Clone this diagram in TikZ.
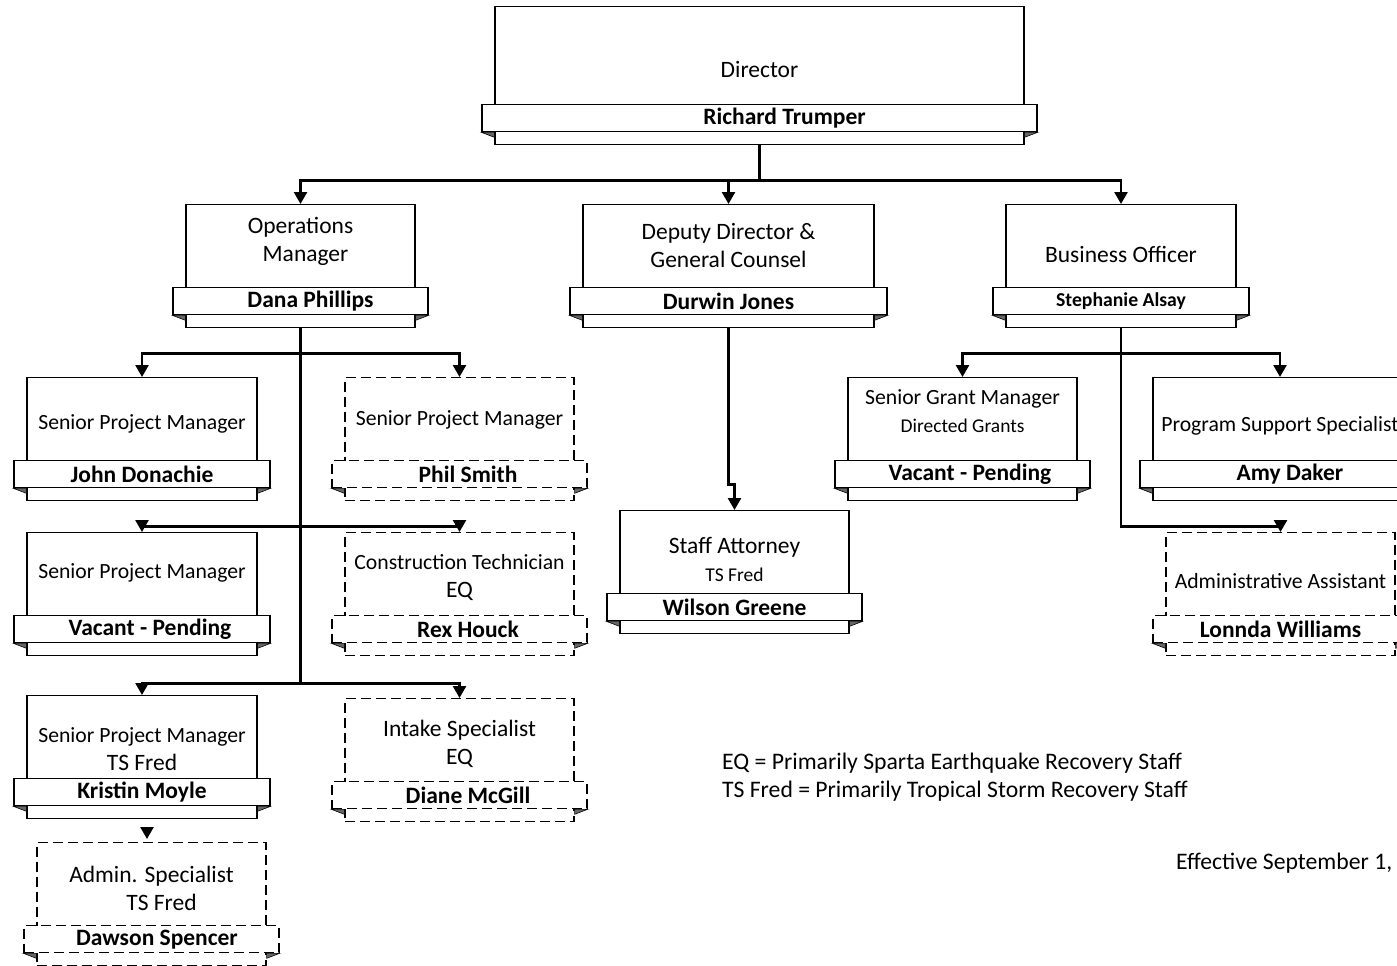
\documentclass[tikz,border=0pt]{standalone}
\usepackage{fontspec}
\setmainfont{Carlito}
\usetikzlibrary{arrows.meta}

\tikzset{
    boxmain/.style={draw, line width=1.3pt, fill=white, inner sep=0pt},
    banner/.style={draw, line width=1.3pt, fill=white, inner sep=0pt,
        minimum height=27pt, font=\bfseries\fontsize{23.5}{27}\selectfont},
    fold/.style={draw, line width=0.6pt, fill=black!60},
    titletext/.style={align=center, inner sep=0pt, font=\fontsize{23.5}{28}\selectfont},
    legendtext/.style={inner sep=0pt, font=\fontsize{23.7}{28}\selectfont},
    tempbox/.style={dash pattern=on 10pt off 5pt},
    conn/.style={line width=2.5pt},
    arr/.style={conn, -{Triangle[length=12pt,width=13pt]}},
}

% box with name banner: [style]{name}{centre x}{top y}{width}{height}{title offset}{title}{person}
\newcommand{\orgbox}[9][]{%
    \node[boxmain, #1, minimum width=#5pt, minimum height=#6pt, anchor=north] (#2) at (#3,#4) {};
    \node[banner, #1, minimum width={#5pt+26pt}, anchor=south] (#2n) at ([yshift=13pt]#2.south) {#9};
    \filldraw[fold] (#2n.south west) -- ++(13,0) -- ++(0,5) -- cycle;
    \filldraw[fold] (#2n.south east) -- ++(-13,0) -- ++(0,5) -- cycle;
    \node[titletext] (#2t) at (#3,{#4+#7}) {#8};
}
\newcommand{\tighttitle}{\fontsize{21.7}{25.5}\selectfont}
\newcommand{\smallline}[1]{{\fontsize{19.5}{22}\selectfont #1}}

\begin{document}
\begin{tikzpicture}[x=1pt, y=-1pt]
    \useasboundingbox (0,0) rectangle (1397,966);
    \clip (0,0) rectangle (1397,966);

    % top
    \orgbox{dir}{759.5}{6}{529}{138}{64}{Director}{\hspace*{50pt}Richard Trumper}

    \orgbox{opsmgr}{300.5}{204}{229}{123}{37}{\fontsize{23.5}{26}\selectfont Operations\\\hspace*{10pt}Manager}{\hspace*{20pt}Dana Phillips}
    \orgbox{deputy}{728.5}{204}{291}{123}{41}{Deputy Director \&\\General Counsel}{Durwin Jones}
    \orgbox{busoff}{1121}{204}{230}{123}{50}{Business Officer}{\fontsize{19.7}{22}\selectfont Stephanie Alsay}

    % operations
    \orgbox{spmJD}{142}{377}{230}{123}{47}{\tighttitle Senior Project Manager}{John Donachie}
    \orgbox[tempbox]{spmPS}{459.5}{377}{229}{123}{43}{\tighttitle Senior Project Manager}{\hspace*{17pt}Phil Smith}
    \orgbox{spmVP}{142}{532}{230}{123}{41}{\tighttitle Senior Project Manager}{\hspace*{16pt}Vacant - Pending}
    \orgbox[tempbox]{contech}{459.5}{532}{229}{123}{46}{\tighttitle Construction Technician\\EQ}{\hspace*{17pt}Rex Houck}
    \orgbox{spmKM}{142}{695}{230}{123}{54}{\tighttitle Senior Project Manager\\TS Fred}{Kristin Moyle}
    \orgbox[tempbox]{intake}{459.5}{698}{229}{123}{46}{Intake Specialist\\EQ}{\hspace*{17pt}Diane McGill}
    \orgbox[tempbox]{adminsp}{151.5}{842}{229}{123}{46}{Admin. Specialist\\\hspace*{20pt}TS Fred}{\hspace*{11pt}Dawson Spencer}

    % deputy
    \orgbox{staffatt}{734.5}{510}{229}{123}{49}{\fontsize{23.5}{26}\selectfont Staff Attorney\\\smallline{TS Fred}}{Wilson Greene}

    % business
    \orgbox{sgm}{962.5}{377}{229}{123}{34}{\tighttitle Senior Grant Manager\\\smallline{Directed Grants}}{\hspace*{15pt}Vacant - Pending}
    \orgbox{pss}{1280}{377}{254}{123}{49}{\tighttitle Program Support Specialist}{\hspace*{20pt}Amy Daker}
    \orgbox[tempbox]{adminas}{1280.5}{532}{229}{123}{49}{\tighttitle Administrative Assistant}{Lonnda Williams}

    % connectors
    \draw[conn] (dir.south) -- ++(0,35) coordinate (dirj);
    \draw[arr] (dirj) -| (opsmgr.north);
    \draw[arr] (dirj) -| (deputy.north);
    \draw[arr] (dirj) -| (busoff.north);

    \draw[conn] (opsmgr.south) -- ++(0,355);
    \draw[arr] ([yshift=-25pt]opsmgr.south) -| (spmJD.north);
    \draw[arr] ([yshift=-25pt]opsmgr.south) -| (spmPS.north);
    \draw[arr] ([yshift=-198pt]opsmgr.south) -| (spmVP.north);
    \draw[arr] ([yshift=-198pt]opsmgr.south) -| (contech.north);
    \draw[arr] ([yshift=-355pt]opsmgr.south) -| (spmKM.north);
    \draw[arr] ([yshift=-355pt]opsmgr.south) -| (intake.north);
    \coordinate (kmdrop) at ([xshift=5pt]spmKM.south);
    \draw[arr, shorten <=9pt, shorten >=3pt] (kmdrop) -- (kmdrop |- adminsp.north);

    \draw[arr] (deputy.south) -- ++(0,156) -| (staffatt.north);

    \draw[arr] (busoff.south) -- ++(0,198) -| (adminas.north);
    \draw[arr] ([yshift=-25pt]busoff.south) -| (sgm.north);
    \draw[arr] ([yshift=-25pt]busoff.south) -| (pss.north);

    % legend
    \node[legendtext, anchor=west] (legEQ) at (722,763) {EQ = Primarily Sparta Earthquake Recovery Staff};
    \node[legendtext, anchor=west] (legTS) at (722,791) {TS Fred = Primarily Tropical Storm Recovery Staff};
    \node[legendtext, anchor=west] (effdate) at (1176,863) {Effective September 1,};
\end{tikzpicture}
\end{document}
